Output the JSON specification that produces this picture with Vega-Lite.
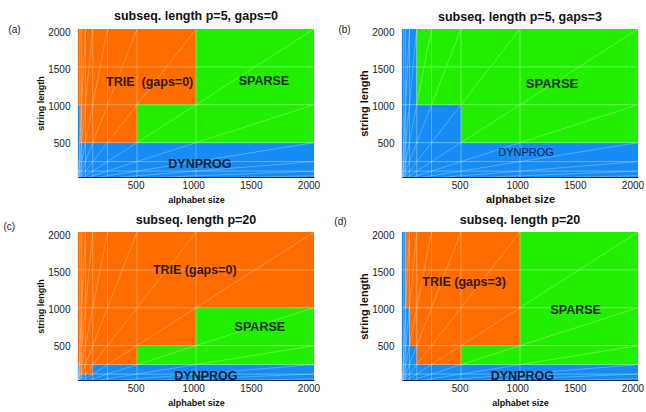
{
  "$schema": "https://vega.github.io/schema/vega-lite/v6.json",
  "padding": {"left": 3, "top": 10, "right": 5, "bottom": 5},
  "background": "white",
  "config": {
    "font": "Liberation Sans",
    "view": {"stroke": null},
    "title": {"fontSize": 12.5, "fontWeight": "bold", "color": "#111"},
    "axis": {"ticks": false, "grid": false, "domainColor": "#1b2433", "domainWidth": 1.2, "labelFontSize": 10, "labelColor": "#222", "titleFontWeight": "bold", "titleColor": "#111", "format": "d"},
    "axisX": {"labelPadding": 3, "titlePadding": 5},
    "axisY": {"labelPadding": 8, "titlePadding": 2}
  },
  "datasets": {
    "vlines": [{"x": 16}, {"x": 32}, {"x": 64}, {"x": 128}, {"x": 256}, {"x": 512}, {"x": 1024}],
    "hlines": [{"y": 128}, {"y": 256}, {"y": 512}, {"y": 1024}, {"y": 1536}],
    "rays": [
      {"x": 0, "y": 0, "x2": 2048, "y2": 64},
      {"x": 0, "y": 0, "x2": 2048, "y2": 128},
      {"x": 0, "y": 0, "x2": 2048, "y2": 256},
      {"x": 0, "y": 0, "x2": 2048, "y2": 512},
      {"x": 0, "y": 0, "x2": 2048, "y2": 1024},
      {"x": 0, "y": 0, "x2": 2048, "y2": 2048},
      {"x": 0, "y": 0, "x2": 1024, "y2": 2048},
      {"x": 0, "y": 0, "x2": 512, "y2": 2048},
      {"x": 0, "y": 0, "x2": 256, "y2": 2048},
      {"x": 0, "y": 0, "x2": 128, "y2": 2048},
      {"x": 0, "y": 0, "x2": 64, "y2": 2048}
    ],
    "ra": [
      {"alg": "DYNPROG", "x": 0, "x2": 2048, "y": 0, "y2": 512},
      {"alg": "DYNPROG", "x": 0, "x2": 20, "y": 512, "y2": 1024},
      {"alg": "TRIE", "x": 20, "x2": 512, "y": 512, "y2": 1024},
      {"alg": "TRIE", "x": 0, "x2": 1024, "y": 1024, "y2": 2048},
      {"alg": "SPARSE", "x": 512, "x2": 2048, "y": 512, "y2": 1024},
      {"alg": "SPARSE", "x": 1024, "x2": 2048, "y": 1024, "y2": 2048}
    ],
    "rb": [
      {"alg": "DYNPROG", "x": 0, "x2": 2048, "y": 0, "y2": 512},
      {"alg": "DYNPROG", "x": 0, "x2": 512, "y": 512, "y2": 1024},
      {"alg": "DYNPROG", "x": 0, "x2": 128, "y": 1024, "y2": 2048},
      {"alg": "SPARSE", "x": 512, "x2": 2048, "y": 512, "y2": 1024},
      {"alg": "SPARSE", "x": 128, "x2": 2048, "y": 1024, "y2": 2048}
    ],
    "rc": [
      {"alg": "DYNPROG", "x": 0, "x2": 2048, "y": 0, "y2": 128},
      {"alg": "DYNPROG", "x": 0, "x2": 16, "y": 128, "y2": 256},
      {"alg": "TRIE", "x": 16, "x2": 128, "y": 128, "y2": 256},
      {"alg": "DYNPROG", "x": 128, "x2": 2048, "y": 128, "y2": 256},
      {"alg": "TRIE", "x": 0, "x2": 512, "y": 256, "y2": 512},
      {"alg": "SPARSE", "x": 512, "x2": 2048, "y": 256, "y2": 512},
      {"alg": "TRIE", "x": 0, "x2": 1024, "y": 512, "y2": 1024},
      {"alg": "SPARSE", "x": 1024, "x2": 2048, "y": 512, "y2": 1024},
      {"alg": "TRIE", "x": 0, "x2": 2048, "y": 1024, "y2": 2048}
    ],
    "rd": [
      {"alg": "DYNPROG", "x": 0, "x2": 2048, "y": 0, "y2": 256},
      {"alg": "DYNPROG", "x": 0, "x2": 128, "y": 256, "y2": 512},
      {"alg": "TRIE", "x": 128, "x2": 512, "y": 256, "y2": 512},
      {"alg": "SPARSE", "x": 512, "x2": 2048, "y": 256, "y2": 512},
      {"alg": "DYNPROG", "x": 0, "x2": 64, "y": 512, "y2": 1024},
      {"alg": "TRIE", "x": 64, "x2": 1024, "y": 512, "y2": 1024},
      {"alg": "DYNPROG", "x": 0, "x2": 30, "y": 1024, "y2": 2048},
      {"alg": "TRIE", "x": 30, "x2": 1024, "y": 1024, "y2": 2048},
      {"alg": "SPARSE", "x": 1024, "x2": 2048, "y": 512, "y2": 2048}
    ],
    "la": [
      {"label": "TRIE \u00a0(gaps=0)", "x": 622, "y": 1338},
      {"label": "SPARSE", "x": 1613, "y": 1340},
      {"label": "DYNPROG", "x": 1058, "y": 230}
    ],
    "lb": [
      {"label": "SPARSE", "x": 1302, "y": 1310}
    ],
    "lb2": [
      {"label": "DYNPROG", "x": 1077, "y": 369}
    ],
    "lc": [
      {"label": "TRIE (gaps=0)", "x": 1013, "y": 1530},
      {"label": "SPARSE", "x": 1578, "y": 761},
      {"label": "DYNPROG", "x": 1110, "y": 107}
    ],
    "ld": [
      {"label": "TRIE (gaps=3)", "x": 539, "y": 1367},
      {"label": "SPARSE", "x": 1507, "y": 988},
      {"label": "DYNPROG", "x": 1044, "y": 100}
    ],
    "pa": [{"label": "(a)"}],
    "pb": [{"label": "(b)"}],
    "pc": [{"label": "(c)"}],
    "pd": [{"label": "(d)"}]
  },
  "columns": 2,
  "bounds": "flush",
  "spacing": {"row": 55, "column": 88},
  "resolve": {"scale": {"x": "independent", "y": "independent"}},
  "concat": [
    {
      "width": 236, "height": 148,
      "title": {"text": "subseq. length p=5, gaps=0", "offset": 2},
      "layer": [
        {"data": {"name": "ra"}, "mark": {"type": "rect", "clip": true, "strokeWidth": 0.5},
          "encoding": {
            "x": {"field": "x", "type": "quantitative", "scale": {"domain": [0, 2048], "nice": false}, "axis": {"values": [500, 1000, 1500, 2000], "titleFontSize": 9}, "title": "alphabet size"},
            "x2": {"field": "x2"},
            "y": {"field": "y", "type": "quantitative", "scale": {"domain": [48, 2048], "nice": false}, "axis": {"values": [500, 1000, 1500, 2000], "titleFontSize": 9}, "title": "string length"},
            "y2": {"field": "y2"},
            "color": {"field": "alg", "type": "nominal", "scale": {"domain": ["DYNPROG", "TRIE", "SPARSE"], "range": ["#168cf4", "#ff6d00", "#22ef00"]}, "legend": null},
            "stroke": {"field": "alg", "type": "nominal", "scale": {"domain": ["DYNPROG", "TRIE", "SPARSE"], "range": ["#168cf4", "#ff6d00", "#22ef00"]}, "legend": null}
          }},
        {"data": {"name": "vlines"}, "mark": {"type": "rule", "color": "white", "opacity": 0.4, "strokeWidth": 0.8, "clip": true}, "encoding": {"x": {"field": "x", "type": "quantitative"}}},
        {"data": {"name": "hlines"}, "mark": {"type": "rule", "color": "white", "opacity": 0.4, "strokeWidth": 0.8, "clip": true}, "encoding": {"y": {"field": "y", "type": "quantitative"}}},
        {"data": {"name": "rays"}, "mark": {"type": "rule", "color": "white", "opacity": 0.35, "strokeWidth": 0.8, "clip": true}, "encoding": {"x": {"field": "x", "type": "quantitative"}, "y": {"field": "y", "type": "quantitative"}, "x2": {"field": "x2"}, "y2": {"field": "y2"}}},
        {"data": {"name": "la"}, "mark": {"type": "text", "fontWeight": "bold", "fontSize": 12.5, "color": "#000", "opacity": 0.8},
          "encoding": {"x": {"field": "x", "type": "quantitative"}, "y": {"field": "y", "type": "quantitative"}, "text": {"field": "label"}}},
        {"data": {"name": "pa"}, "mark": {"type": "text", "fontSize": 10, "color": "#222", "clip": false},
          "encoding": {"x": {"datum": -551}, "y": {"datum": 2041}, "text": {"field": "label"}}}
      ]
    },
    {
      "width": 236, "height": 148,
      "title": {"text": "subseq. length p=5, gaps=3", "offset": 2},
      "layer": [
        {"data": {"name": "rb"}, "mark": {"type": "rect", "clip": true, "strokeWidth": 0.5},
          "encoding": {
            "x": {"field": "x", "type": "quantitative", "scale": {"domain": [0, 2048], "nice": false}, "axis": {"values": [500, 1000, 1500, 2000], "titleFontSize": 11, "titlePadding": 3}, "title": "alphabet size"},
            "x2": {"field": "x2"},
            "y": {"field": "y", "type": "quantitative", "scale": {"domain": [48, 2048], "nice": false}, "axis": {"values": [500, 1000, 1500, 2000], "titleFontSize": 11}, "title": "string length"},
            "y2": {"field": "y2"},
            "color": {"field": "alg", "type": "nominal", "scale": {"domain": ["DYNPROG", "TRIE", "SPARSE"], "range": ["#168cf4", "#ff6d00", "#22ef00"]}, "legend": null},
            "stroke": {"field": "alg", "type": "nominal", "scale": {"domain": ["DYNPROG", "TRIE", "SPARSE"], "range": ["#168cf4", "#ff6d00", "#22ef00"]}, "legend": null}
          }},
        {"data": {"name": "vlines"}, "mark": {"type": "rule", "color": "white", "opacity": 0.4, "strokeWidth": 0.8, "clip": true}, "encoding": {"x": {"field": "x", "type": "quantitative"}}},
        {"data": {"name": "hlines"}, "mark": {"type": "rule", "color": "white", "opacity": 0.4, "strokeWidth": 0.8, "clip": true}, "encoding": {"y": {"field": "y", "type": "quantitative"}}},
        {"data": {"name": "rays"}, "mark": {"type": "rule", "color": "white", "opacity": 0.35, "strokeWidth": 0.8, "clip": true}, "encoding": {"x": {"field": "x", "type": "quantitative"}, "y": {"field": "y", "type": "quantitative"}, "x2": {"field": "x2"}, "y2": {"field": "y2"}}},
        {"data": {"name": "lb"}, "mark": {"type": "text", "fontWeight": "bold", "fontSize": 13, "color": "#000", "opacity": 0.8},
          "encoding": {"x": {"field": "x", "type": "quantitative"}, "y": {"field": "y", "type": "quantitative"}, "text": {"field": "label"}}},
        {"data": {"name": "lb2"}, "mark": {"type": "text", "fontSize": 11, "color": "#000", "opacity": 0.75},
          "encoding": {"x": {"field": "x", "type": "quantitative"}, "y": {"field": "y", "type": "quantitative"}, "text": {"field": "label"}}},
        {"data": {"name": "pb"}, "mark": {"type": "text", "fontSize": 10, "color": "#222", "clip": false},
          "encoding": {"x": {"datum": -499}, "y": {"datum": 2028}, "text": {"field": "label"}}}
      ]
    },
    {
      "width": 236, "height": 148,
      "title": {"text": "subseq. length p=20", "offset": -4.5},
      "layer": [
        {"data": {"name": "rc"}, "mark": {"type": "rect", "clip": true, "strokeWidth": 0.5},
          "encoding": {
            "x": {"field": "x", "type": "quantitative", "scale": {"domain": [0, 2048], "nice": false}, "axis": {"values": [500, 1000, 1500, 2000], "titleFontSize": 9}, "title": "alphabet size"},
            "x2": {"field": "x2"},
            "y": {"field": "y", "type": "quantitative", "scale": {"domain": [48, 2048], "nice": false}, "axis": {"values": [500, 1000, 1500, 2000], "titleFontSize": 9}, "title": "string length"},
            "y2": {"field": "y2"},
            "color": {"field": "alg", "type": "nominal", "scale": {"domain": ["DYNPROG", "TRIE", "SPARSE"], "range": ["#168cf4", "#ff6d00", "#22ef00"]}, "legend": null},
            "stroke": {"field": "alg", "type": "nominal", "scale": {"domain": ["DYNPROG", "TRIE", "SPARSE"], "range": ["#168cf4", "#ff6d00", "#22ef00"]}, "legend": null}
          }},
        {"data": {"name": "vlines"}, "mark": {"type": "rule", "color": "white", "opacity": 0.4, "strokeWidth": 0.8, "clip": true}, "encoding": {"x": {"field": "x", "type": "quantitative"}}},
        {"data": {"name": "hlines"}, "mark": {"type": "rule", "color": "white", "opacity": 0.4, "strokeWidth": 0.8, "clip": true}, "encoding": {"y": {"field": "y", "type": "quantitative"}}},
        {"data": {"name": "rays"}, "mark": {"type": "rule", "color": "white", "opacity": 0.35, "strokeWidth": 0.8, "clip": true}, "encoding": {"x": {"field": "x", "type": "quantitative"}, "y": {"field": "y", "type": "quantitative"}, "x2": {"field": "x2"}, "y2": {"field": "y2"}}},
        {"data": {"name": "lc"}, "mark": {"type": "text", "fontWeight": "bold", "fontSize": 12.5, "color": "#000", "opacity": 0.8},
          "encoding": {"x": {"field": "x", "type": "quantitative"}, "y": {"field": "y", "type": "quantitative"}, "text": {"field": "label"}}},
        {"data": {"name": "pc"}, "mark": {"type": "text", "fontSize": 10, "color": "#222", "clip": false},
          "encoding": {"x": {"datum": -596}, "y": {"datum": 2116}, "text": {"field": "label"}}}
      ]
    },
    {
      "width": 236, "height": 148,
      "title": {"text": "subseq. length p=20", "offset": -9.5},
      "layer": [
        {"data": {"name": "rd"}, "mark": {"type": "rect", "clip": true, "strokeWidth": 0.5},
          "encoding": {
            "x": {"field": "x", "type": "quantitative", "scale": {"domain": [0, 2048], "nice": false}, "axis": {"values": [500, 1000, 1500, 2000], "titleFontSize": 9}, "title": "alphabet size"},
            "x2": {"field": "x2"},
            "y": {"field": "y", "type": "quantitative", "scale": {"domain": [48, 2048], "nice": false}, "axis": {"values": [500, 1000, 1500, 2000], "titleFontSize": 11}, "title": "string length"},
            "y2": {"field": "y2"},
            "color": {"field": "alg", "type": "nominal", "scale": {"domain": ["DYNPROG", "TRIE", "SPARSE"], "range": ["#168cf4", "#ff6d00", "#22ef00"]}, "legend": null},
            "stroke": {"field": "alg", "type": "nominal", "scale": {"domain": ["DYNPROG", "TRIE", "SPARSE"], "range": ["#168cf4", "#ff6d00", "#22ef00"]}, "legend": null}
          }},
        {"data": {"name": "vlines"}, "mark": {"type": "rule", "color": "white", "opacity": 0.4, "strokeWidth": 0.8, "clip": true}, "encoding": {"x": {"field": "x", "type": "quantitative"}}},
        {"data": {"name": "hlines"}, "mark": {"type": "rule", "color": "white", "opacity": 0.4, "strokeWidth": 0.8, "clip": true}, "encoding": {"y": {"field": "y", "type": "quantitative"}}},
        {"data": {"name": "rays"}, "mark": {"type": "rule", "color": "white", "opacity": 0.35, "strokeWidth": 0.8, "clip": true}, "encoding": {"x": {"field": "x", "type": "quantitative"}, "y": {"field": "y", "type": "quantitative"}, "x2": {"field": "x2"}, "y2": {"field": "y2"}}},
        {"data": {"name": "ld"}, "mark": {"type": "text", "fontWeight": "bold", "fontSize": 12.5, "color": "#000", "opacity": 0.8},
          "encoding": {"x": {"field": "x", "type": "quantitative"}, "y": {"field": "y", "type": "quantitative"}, "text": {"field": "label"}}},
        {"data": {"name": "pd"}, "mark": {"type": "text", "fontSize": 10, "color": "#222", "clip": false},
          "encoding": {"x": {"datum": -534}, "y": {"datum": 2184}, "text": {"field": "label"}}}
      ]
    }
  ]
}
